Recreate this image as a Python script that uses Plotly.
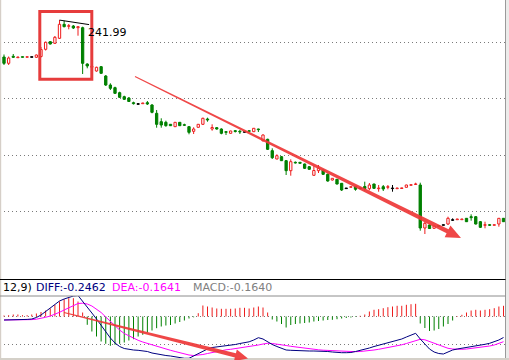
import plotly.graph_objects as go

# ---------------- data ----------------
opens = [
    238.30, 237.67, 238.37, 238.23, 238.33, 238.27, 238.30, 238.27, 238.35, 239.07,
    239.83, 239.67, 240.17, 241.57, 241.37, 241.40, 241.23, 241.23, 237.60, 237.27,
    236.90, 237.33, 236.40, 235.50, 235.23, 234.73, 234.33, 234.20, 233.73, 233.60,
    233.63, 233.73, 233.50, 232.67, 231.83, 231.77, 231.57, 231.33, 231.77, 231.53,
    231.33, 230.87, 231.27, 231.57, 232.10, 231.10, 231.23, 231.10, 230.83, 230.67,
    230.93, 230.87, 230.80, 230.93, 230.83, 231.10, 229.93, 230.07, 228.93, 228.10,
    228.33, 227.93, 226.93, 227.77, 227.77, 227.60, 227.33, 226.47, 226.93, 227.00,
    226.57, 226.00, 226.07, 225.67, 225.17, 225.27, 225.37, 225.17, 225.35, 225.13,
    225.60, 225.13, 225.33, 225.27, 225.17, 225.13, 225.15, 225.27, 225.47, 225.55,
    225.50, 221.20, 221.50, 221.17, 221.45, 221.50, 221.60, 222.00, 222.03, 222.03,
    222.17, 222.33, 222.33, 221.83, 221.47, 221.53, 221.47, 221.60, 222.17]
highs = [
    238.55, 238.35, 238.60, 238.33, 238.33, 238.33, 238.32, 238.55, 239.30, 239.85,
    239.90, 240.40, 241.99, 241.93, 241.60, 241.50, 241.40, 241.33, 237.67, 237.40,
    237.33, 237.40, 236.50, 235.67, 235.33, 234.83, 234.43, 234.30, 233.83, 233.70,
    233.72, 233.90, 233.60, 233.00, 232.17, 231.93, 231.60, 231.80, 231.80, 231.63,
    231.40, 231.27, 231.60, 232.23, 232.23, 231.57, 231.30, 231.17, 230.90, 230.93,
    231.00, 231.00, 230.83, 230.95, 231.20, 231.13, 230.57, 230.13, 229.17, 228.57,
    228.40, 228.00, 228.07, 227.85, 227.80, 227.65, 227.40, 227.40, 227.50, 227.05,
    226.65, 226.20, 226.10, 225.70, 225.20, 225.35, 225.40, 225.20, 225.83, 225.70,
    225.63, 225.50, 225.50, 225.50, 225.50, 225.22, 225.22, 225.53, 225.55, 225.73,
    225.73, 221.83, 221.55, 221.43, 221.47, 221.52, 222.33, 222.17, 222.12, 222.12,
    222.20, 222.57, 222.40, 221.90, 221.83, 221.60, 221.55, 222.20, 222.20]
lows = [
    237.50, 237.50, 238.20, 238.20, 238.27, 238.27, 238.28, 238.20, 238.25, 238.95,
    239.55, 239.60, 240.10, 241.27, 241.07, 241.10, 240.43, 236.60, 237.17, 237.20,
    236.83, 236.65, 235.40, 235.00, 234.60, 234.20, 234.00, 233.80, 233.55, 233.55,
    233.61, 233.50, 232.67, 231.23, 231.23, 231.33, 231.40, 231.30, 231.40, 231.40,
    230.57, 230.60, 231.23, 231.50, 231.83, 230.93, 231.03, 230.57, 230.50, 230.63,
    230.75, 230.60, 230.77, 230.85, 230.80, 230.80, 229.83, 229.00, 228.10, 228.07,
    227.90, 226.50, 226.43, 227.65, 227.63, 227.10, 227.03, 226.43, 226.70, 226.50,
    225.83, 225.95, 225.55, 224.90, 225.14, 225.25, 224.93, 225.14, 224.93, 224.97,
    225.10, 224.83, 224.90, 225.07, 224.83, 225.12, 225.13, 225.25, 225.45, 225.50,
    220.93, 220.60, 221.10, 221.13, 221.33, 221.48, 221.50, 221.90, 222.02, 222.02,
    221.80, 221.93, 221.55, 221.20, 221.17, 221.40, 221.45, 221.33, 221.80]
closes = [
    237.67, 238.20, 238.27, 238.30, 238.27, 238.33, 238.30, 238.50, 239.05, 239.77,
    239.60, 240.27, 241.57, 241.33, 241.43, 241.20, 241.33, 237.67, 237.40, 237.37,
    237.27, 236.67, 235.50, 235.17, 234.67, 234.27, 234.07, 233.85, 233.63, 233.60,
    233.70, 233.60, 232.77, 231.57, 231.50, 231.43, 231.43, 231.77, 231.43, 231.47,
    230.77, 231.10, 231.57, 232.17, 232.00, 231.25, 231.10, 230.67, 230.77, 230.90,
    230.85, 230.80, 230.80, 230.87, 231.17, 231.03, 230.50, 229.07, 228.23, 228.43,
    227.93, 226.93, 227.83, 227.70, 227.67, 227.17, 227.07, 226.95, 227.17, 226.57,
    225.90, 226.17, 225.60, 225.00, 225.17, 225.33, 225.07, 225.17, 225.15, 225.50,
    225.17, 225.20, 225.10, 225.33, 225.17, 225.20, 225.20, 225.50, 225.53, 225.60,
    221.20, 221.67, 221.15, 221.40, 221.35, 221.50, 222.17, 222.00, 222.10, 222.10,
    221.83, 222.23, 221.60, 221.27, 221.53, 221.47, 221.53, 222.17, 221.83]

diff = [
    -0.035, -0.035, -0.035, -0.033, -0.031, -0.029, -0.025, -0.010, 0.015, 0.050,
    0.085, 0.120, 0.155, 0.175, 0.190, 0.205, 0.210, 0.155, 0.095, 0.035,
    -0.025, -0.090, -0.155, -0.215, -0.265, -0.300, -0.320, -0.330, -0.335, -0.338,
    -0.342, -0.350, -0.365, -0.375, -0.385, -0.390, -0.395, -0.405, -0.415, -0.418,
    -0.418, -0.395, -0.370, -0.345, -0.325, -0.310, -0.305, -0.300, -0.295, -0.290,
    -0.280, -0.270, -0.260, -0.253, -0.235, -0.212, -0.225, -0.255, -0.280, -0.300,
    -0.320, -0.335, -0.338, -0.341, -0.343, -0.345, -0.345, -0.345, -0.345, -0.345,
    -0.350, -0.355, -0.360, -0.362, -0.362, -0.360, -0.350, -0.340, -0.330, -0.315,
    -0.300, -0.288, -0.275, -0.263, -0.252, -0.240, -0.225, -0.205, -0.185, -0.168,
    -0.225, -0.280, -0.325, -0.355, -0.370, -0.375, -0.355, -0.335, -0.325, -0.318,
    -0.310, -0.303, -0.295, -0.287, -0.278, -0.268, -0.255, -0.235, -0.210]
dea = [
    -0.035, -0.035, -0.035, -0.035, -0.035, -0.033, -0.031, -0.027, -0.019, -0.008,
    0.005, 0.022, 0.042, 0.065, 0.088, 0.110, 0.130, 0.133, 0.125, 0.105,
    0.075, 0.040, -0.005, -0.050, -0.095, -0.135, -0.170, -0.195, -0.218, -0.238,
    -0.255, -0.270, -0.285, -0.300, -0.313, -0.325, -0.338, -0.350, -0.363, -0.375,
    -0.385, -0.390, -0.388, -0.380, -0.370, -0.360, -0.350, -0.340, -0.333, -0.328,
    -0.322, -0.315, -0.308, -0.300, -0.293, -0.285, -0.275, -0.268, -0.270, -0.275,
    -0.280, -0.290, -0.298, -0.305, -0.311, -0.317, -0.323, -0.328, -0.333, -0.337,
    -0.340, -0.343, -0.345, -0.348, -0.350, -0.352, -0.352, -0.350, -0.347, -0.341,
    -0.335, -0.328, -0.320, -0.312, -0.303, -0.293, -0.283, -0.270, -0.255, -0.240,
    -0.228, -0.233, -0.250, -0.270, -0.290, -0.305, -0.318, -0.325, -0.328, -0.328,
    -0.325, -0.320, -0.315, -0.308, -0.302, -0.295, -0.285, -0.270, -0.252]
macd_hist = [
    0.010, 0.013, 0.020, 0.020, 0.013, 0.013, 0.020, 0.030, 0.045, 0.060,
    0.080, 0.115, 0.150, 0.173, 0.183, 0.183, 0.150, 0.040, -0.083, -0.150,
    -0.200, -0.250, -0.273, -0.293, -0.283, -0.273, -0.260, -0.240, -0.227, -0.200,
    -0.183, -0.160, -0.140, -0.117, -0.100, -0.090, -0.085, -0.070, -0.055, -0.040,
    -0.020, -0.008, 0.033, 0.110, 0.100, 0.090, 0.080, 0.077, 0.077, 0.077,
    0.080, 0.087, 0.087, 0.080, 0.090, 0.100, 0.090, 0.040, -0.030, -0.050,
    -0.075, -0.110, -0.085, -0.075, -0.070, -0.065, -0.060, -0.050, -0.045, -0.040,
    -0.035, -0.033, -0.027, -0.020, -0.015, -0.010, -0.005, 0.007, 0.020, 0.050,
    0.067, 0.073, 0.083, 0.093, 0.100, 0.107, 0.107, 0.117, 0.123, 0.127,
    -0.070, -0.115, -0.145, -0.140, -0.125, -0.100, -0.075, -0.040, 0.005, 0.017,
    0.040, 0.060, 0.067, 0.060, 0.067, 0.073, 0.083, 0.100, 0.107]

price_grid = [239.80, 234.15, 228.50, 222.85]
macd_grid = [0.0, -0.275]
header_labels = ["12,9)", "DIFF:-0.2462", "DEA:-0.1641", "MACD:-0.1640"]

# ---------------- styling ----------------
W, H = 509, 360
RED, GREEN, BLACK = "#ee1c1c", "#008000", "#000000"
DIFF_C, DEA_C, GREY = "#000080", "#ff00ff", "#808080"
FONT = "DejaVu Sans, Verdana, sans-serif"
MIN_BODY = 0.06

n = len(opens)
idx = list(range(n))
up = [i for i in idx if closes[i] > opens[i]]
down = [i for i in idx if closes[i] < opens[i]]
flat = [i for i in idx if closes[i] == opens[i]]

fig = go.Figure()


def wicks(sel, split):
    xs, ys = [], []
    for i in sel:
        top, bot = max(opens[i], closes[i]), min(opens[i], closes[i])
        if split:
            xs += [i, i, None, i, i, None]
            ys += [highs[i], top, None, bot, lows[i], None]
        else:
            xs += [i, i, None]
            ys += [highs[i], lows[i], None]
    return xs, ys


def body(sel, fill, col):
    base = [min(opens[i], closes[i]) if opens[i] != closes[i] else opens[i] - MIN_BODY / 2 for i in sel]
    hgt = [max(abs(closes[i] - opens[i]), MIN_BODY) for i in sel]
    fig.add_trace(go.Bar(x=sel, y=hgt, base=base, width=0.5,
                         marker=dict(color=fill, line=dict(color=col, width=1)),
                         xaxis="x", yaxis="y", hoverinfo="skip"))


for sel, split, col in [(up, True, RED), (down, False, GREEN), (flat, False, BLACK)]:
    wx, wy = wicks(sel, split)
    fig.add_trace(go.Scatter(x=wx, y=wy, mode="lines", line=dict(color=col, width=1),
                             xaxis="x", yaxis="y", hoverinfo="skip"))
body(up, "white", RED)
body(down, GREEN, GREEN)
body(flat, BLACK, BLACK)

# MACD histogram as thin sticks
for positive, col in [(True, RED), (False, GREEN)]:
    hx, hy = [], []
    for i in idx:
        v = macd_hist[i]
        if (v > 0) == positive and v != 0:
            hx += [i, i, None]
            hy += [0, v, None]
    fig.add_trace(go.Scatter(x=hx, y=hy, mode="lines", line=dict(color=col, width=1),
                             xaxis="x2", yaxis="y2", hoverinfo="skip"))
fig.add_trace(go.Scatter(x=idx, y=dea, mode="lines", line=dict(color=DEA_C, width=1),
                         xaxis="x2", yaxis="y2", hoverinfo="skip"))
fig.add_trace(go.Scatter(x=idx, y=diff, mode="lines", line=dict(color=DIFF_C, width=1),
                         xaxis="x2", yaxis="y2", hoverinfo="skip"))

# ---------------- layout ----------------
X0 = 4.0      # pixel centre of first candle
DX = 4.625    # pixel step between candles
xr = [(0 - X0) / DX, (W - X0) / DX]


def P(px, py):
    return px / W, 1 - py / H


def taper_arrow(x0, y0, x1, y1, w0, w1, head_len, head_w):
    dx, dy = x1 - x0, y1 - y0
    L = (dx * dx + dy * dy) ** 0.5
    ux, uy = dx / L, dy / L
    nx, ny = -uy, ux
    bx, by = x1 - ux * head_len, y1 - uy * head_len
    pts = [(x0 + nx * w0, y0 + ny * w0), (bx + nx * w1, by + ny * w1),
           (bx + nx * head_w, by + ny * head_w), (x1, y1),
           (bx - nx * head_w, by - ny * head_w), (bx - nx * w1, by - ny * w1),
           (x0 - nx * w0, y0 - ny * w0)]
    return "M " + " L ".join("%.5f,%.5f" % P(x, y) for x, y in pts) + " Z"


axis_common = dict(showticklabels=False, ticks="", zeroline=False, showline=False, fixedrange=True)
grid_style = dict(showgrid=True, gridcolor="#7a7a7a", gridwidth=1, griddash="1px,3px")

shapes = []


def prect(x0, y0, x1, y1, fill, line_col=None, lw=0):
    a, b = P(x0, y0)
    c, d = P(x1, y1)
    shapes.append(dict(type="rect", xref="paper", yref="paper", x0=a, y0=b, x1=c, y1=d,
                       fillcolor=fill, line=dict(color=line_col or fill, width=lw)))


def pline(x0, y0, x1, y1, col, lw=1):
    a, b = P(x0, y0)
    c, d = P(x1, y1)
    shapes.append(dict(type="line", xref="paper", yref="paper", x0=a, y0=b, x1=c, y1=d,
                       line=dict(color=col, width=lw)))


# frame
prect(0, 0, 1.2, H, "#d6cfc8")
prect(505.5, 0, W, H, "#ecebea")
pline(505.5, 0, 505.5, H, "#9a9a9a")
prect(0, 358, W, H, "#d4d0c8")
pline(0, 279.5, 505.5, 279.5, "#000000")
pline(0, 296, 505.5, 296, "#8c8c8c")

# marker of the highest high
peak = max(idx, key=lambda i: highs[i])
shapes.append(dict(type="line", xref="x", yref="y", x0=peak, y0=highs[peak],
                   x1=peak + 6.4, y1=highs[peak] - 0.45, line=dict(color="#000000", width=1)))

# red highlight box
bx0, by0 = P(39.8, 11.5)
bx1, by1 = P(91.8, 79.2)
shapes.append(dict(type="rect", xref="paper", yref="paper", x0=bx0, y0=by0, x1=bx1, y1=by1,
                   line=dict(color="#e63c3c", width=3), fillcolor="rgba(0,0,0,0)"))

# trend arrows
shapes.append(dict(type="path", xref="paper", yref="paper",
                   path=taper_arrow(135, 76.5, 461, 238, 0.5, 2.2, 15, 6.5),
                   fillcolor="rgba(238,55,55,0.92)", line=dict(width=0)))
shapes.append(dict(type="path", xref="paper", yref="paper",
                   path=taper_arrow(64, 312.5, 248, 358.5, 0.6, 2.2, 13, 6),
                   fillcolor="rgba(238,55,55,0.92)", line=dict(width=0)))

annotations = [
    dict(x=peak + 5.8, y=highs[peak] - 1.2, xref="x", yref="y", text="%.2f" % highs[peak],
         showarrow=False, xanchor="left", yanchor="middle",
         font=dict(family=FONT, size=11, color="#000000")),
]
hx_pos = [0.5, 34, 110, 190.5]
hcols = ["#000000", DIFF_C, DEA_C, GREY]
for lab, xp, col in zip(header_labels, hx_pos, hcols):
    ax, ay = P(xp, 287.5)
    annotations.append(dict(x=ax, y=ay, xref="paper", yref="paper", text=lab, showarrow=False,
                            xanchor="left", yanchor="middle",
                            font=dict(family=FONT, size=11, color=col)))

fig.update_layout(
    width=W, height=H, margin=dict(l=0, r=0, t=0, b=0, pad=0),
    paper_bgcolor="white", plot_bgcolor="white",
    showlegend=False, barmode="overlay", hovermode=False,
    xaxis=dict(domain=[0, 1], range=xr, showgrid=False, anchor="y", **axis_common),
    yaxis=dict(domain=[1 - 279 / H, 1], range=[216.1, 244.0], tickvals=price_grid,
               anchor="x", **grid_style, **axis_common),
    xaxis2=dict(domain=[0, 1], range=xr, showgrid=False, anchor="y2", **axis_common),
    yaxis2=dict(domain=[1 - 358 / H, 1 - 296 / H], range=[-0.415, 0.205], tickvals=macd_grid,
                anchor="x2", **grid_style, **axis_common),
    shapes=shapes, annotations=annotations,
)

fig.write_html("out.html", config={"displayModeBar": False, "staticPlot": True},
               post_script="document.body.style.margin='0px';")
